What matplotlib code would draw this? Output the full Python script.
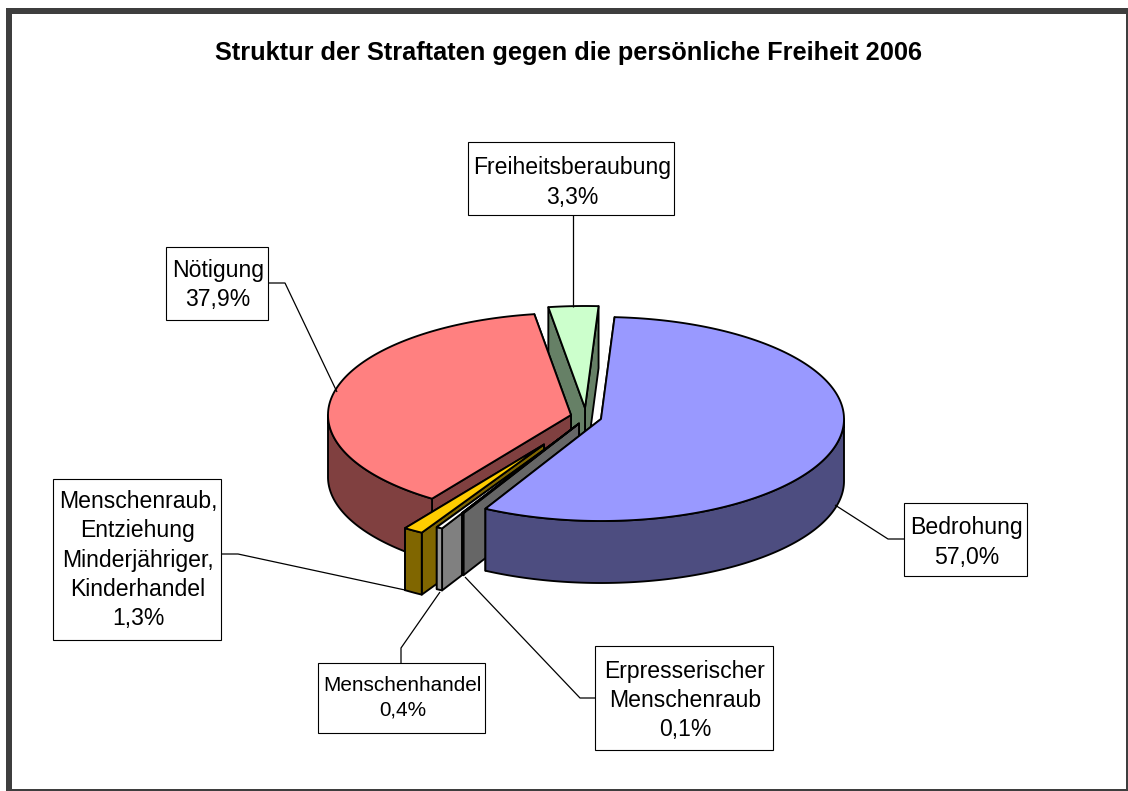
import numpy as np
import matplotlib
matplotlib.use("Agg")
import matplotlib.pyplot as plt
from matplotlib.patches import Polygon, Rectangle

# ---- data ----
categories = ["Bedrohung", "Erpresserischer\nMenschenraub", "Menschenhandel",
              "Menschenraub,\nEntziehung\nMinderjähriger,\nKinderhandel",
              "Nötigung", "Freiheitsberaubung"]
values = [57.0, 0.1, 0.4, 1.3, 37.9, 3.3]
title = "Struktur der Straftaten gegen die persönliche Freiheit 2006"

# ---- style / layout ----
top_colors = ["#9999FF", "#A6A6A6", "#FFFFFF", "#FFCC00", "#FF8080", "#CCFFCC"]
wall_colors = ["#4D4D80", "#666666", "#808080", "#806600", "#804040", "#668066"]
arc_colors = ["#4D4D80", "#666666", "#969696", "#806600", "#804040", "#668066"]
apex = [(601, 419), (579, 423.5), (559, 439), (544, 444.5), (571, 415), (585, 408)]
draw_order = [5, 4, 3, 2, 1, 0]
start_angle = 3.2
A, B, DEPTH = 243.0, 102.0, 62.0
EDGE = 1.35

boxes = {  # x0, y0, x1, y1, font px, text y shift, leader points
    0: (904, 503, 1027, 576, 23.0, 3.0, [(904, 539), (888, 539), (835, 505)]),
    1: (595, 646, 773, 750, 23.0, 2.5, [(595, 698), (580, 698), (465, 577)]),
    2: (318, 663, 485, 733, 20.8, 0.0, [(401, 663), (401, 648), (440, 592)]),
    3: (53, 479, 221, 640, 23.0, 0.5, [(221, 554), (238, 554), (405, 590)]),
    4: (166, 247, 268, 320, 23.0, 1.5, [(268, 283), (285, 283), (337, 392)]),
    5: (468, 142, 674, 215, 23.0, 4.0, [(573, 215), (573, 307)]),
}

plt.rcParams["font.family"] = ["Liberation Sans", "DejaVu Sans"]
fig = plt.figure(figsize=(11.28, 7.91), dpi=100, facecolor="white")
ax = fig.add_axes([0, 0, 1, 1])
ax.set_xlim(0, 1128)
ax.set_ylim(791, 0)
ax.axis("off")

# frame
frame = "#3E3E3E"
for r in [(6, 8, 1122, 6), (6, 8, 6, 783), (1126, 8, 2, 783), (6, 789, 1122, 2)]:
    ax.add_patch(Rectangle((r[0], r[1]), r[2], r[3], fc=frame, ec="none", zorder=1))

ax.text(568.5, 53, title, fontsize=18.3, fontweight="bold", ha="center", va="center", zorder=2)

# pie
edges = start_angle + 3.6 * np.concatenate([[0], np.cumsum(values)])


def arc(i, t0, t1, dz=0.0):
    t = np.radians(np.linspace(t0, t1, max(int(abs(t1 - t0) * 2), 2)))
    return np.column_stack([apex[i][0] + A * np.sin(t), apex[i][1] - B * np.cos(t) + dz])


z = 5
for i in draw_order:
    t0, t1 = edges[i], edges[i + 1]
    c = np.array(apex[i], dtype=float)
    p0, p1 = arc(i, t0, t0)[0], arc(i, t1, t1)[0]
    d = np.array([0, DEPTH])
    # cut walls
    w0 = [p0, c, c + d, p0 + d]
    w1 = [p1, c, c + d, p1 + d]
    ax.add_patch(Polygon(w1, closed=True, fc=wall_colors[i], ec="black", lw=EDGE, joinstyle="round", zorder=z))
    ax.add_patch(Polygon(w0, closed=True, fc=wall_colors[i], ec="black", lw=EDGE, joinstyle="round", zorder=z))
    # outer wall, front half only
    lo, hi = max(t0, 90.0), min(t1, 270.0)
    if hi > lo:
        upper = arc(i, lo, hi)
        ax.add_patch(Polygon(np.vstack([upper, (upper + d)[::-1]]), closed=True, fc=arc_colors[i],
                             ec="black", lw=EDGE, joinstyle="round", zorder=z))
    # top
    ax.add_patch(Polygon(np.vstack([[c], arc(i, t0, t1)]), closed=True, fc=top_colors[i],
                         ec="black", lw=EDGE, joinstyle="round", zorder=z))
    z += 1

# labels
for i, (name, val) in enumerate(zip(categories, values)):
    x0, y0, x1, y1, px, shift, leader = boxes[i]
    lx, ly = zip(*leader)
    ax.plot(lx, ly, color="black", lw=0.9, zorder=20, solid_capstyle="butt")
    ax.add_patch(Rectangle((x0, y0), x1 - x0, y1 - y0, fc="white", ec="black", lw=0.8, zorder=21))
    txt = f"{name}\n{val:.1f}%".replace(".", ",")
    ax.text((x0 + x1) / 2 + 1, (y0 + y1) / 2 + shift, txt, fontsize=px * 0.72, ha="center", va="center",
            linespacing=1.36, zorder=22)

fig.savefig("out.png", dpi=100)
